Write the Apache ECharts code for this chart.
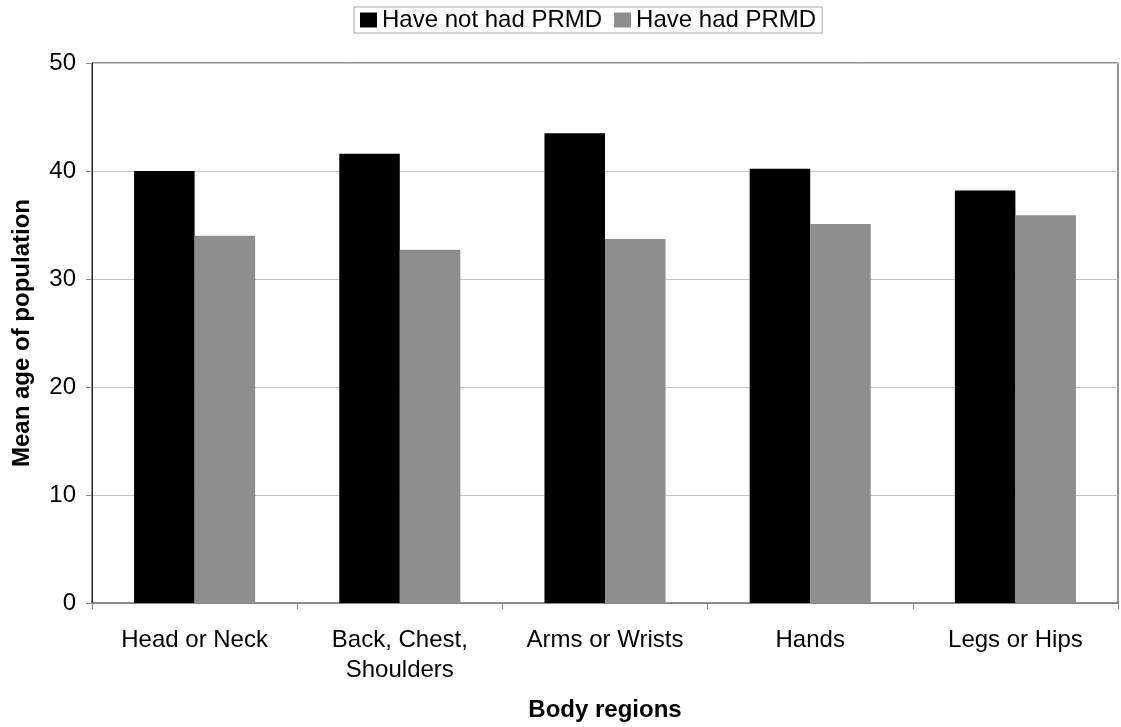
<!DOCTYPE html>
<html><head><meta charset="utf-8">
<script src="https://cdn.jsdelivr.net/npm/echarts@6/dist/echarts.min.js"></script>
<style>html,body{margin:0;padding:0;background:#fff}#c{width:1121px;height:727px}</style>
</head><body><div id="c"></div>
<script>
const categories = ['Head or Neck', 'Back, Chest,\nShoulders', 'Arms or Wrists', 'Hands', 'Legs or Hips'];
const seriesNames = ['Have not had PRMD', 'Have had PRMD'];
const notHad = [40.0, 41.6, 43.5, 40.2, 38.2];
const had = [34.0, 32.7, 33.7, 35.1, 35.9];
const yTicks = [0, 10, 20, 30, 40, 50];

const font = '"Liberation Sans", Arial, sans-serif';
const chart = echarts.init(document.getElementById('c'));
chart.setOption({
  animation: false,
  textStyle: { fontFamily: font },
  legend: {
    top: 7, left: 354,
    itemWidth: 17, itemHeight: 15, itemGap: 12,
    padding: [1, 6, 1, 6],
    borderColor: '#aaa', borderWidth: 1,
    textStyle: { fontSize: 24, color: '#000', fontFamily: font, padding: [0, 0, 0, 0] },
    icon: 'rect',
    data: seriesNames
  },
  grid: { left: 92, right: 3, top: 63, bottom: 122, show: true, borderColor: '#222', borderWidth: 1, backgroundColor: '#fff' },
  xAxis: {
    type: 'category', data: categories,
    axisLine: { lineStyle: { color: '#888', width: 1 } },
    axisTick: { show: true, length: 6, lineStyle: { color: '#888' } },
    axisLabel: { fontSize: 24, color: '#000', margin: 22, lineHeight: 30, fontFamily: font },
    name: 'Body regions', nameLocation: 'middle', nameGap: 95,
    nameTextStyle: { fontSize: 24, fontWeight: 'bold', color: '#000', fontFamily: font }
  },
  yAxis: {
    type: 'value', min: yTicks[0], max: yTicks[yTicks.length - 1], interval: 10,
    axisLine: { show: true, lineStyle: { color: '#222', width: 1 } },
    axisTick: { show: true, length: 6, lineStyle: { color: '#888' } },
    axisLabel: { fontSize: 24, color: '#000', margin: 16, fontFamily: font },
    splitLine: { lineStyle: { color: '#c4c4c4', width: 1 } },
    name: 'Mean age of population', nameLocation: 'middle', nameGap: 58,
    nameTextStyle: { fontSize: 24, fontWeight: 'bold', color: '#000', fontFamily: font }
  },
  series: [
    { name: seriesNames[0], type: 'bar', data: notHad, itemStyle: { color: '#000' }, barGap: '0%', barCategoryGap: '41%' },
    { name: seriesNames[1], type: 'bar', data: had, itemStyle: { color: '#8e8e8e' } }
  ]
});
</script></body></html>
